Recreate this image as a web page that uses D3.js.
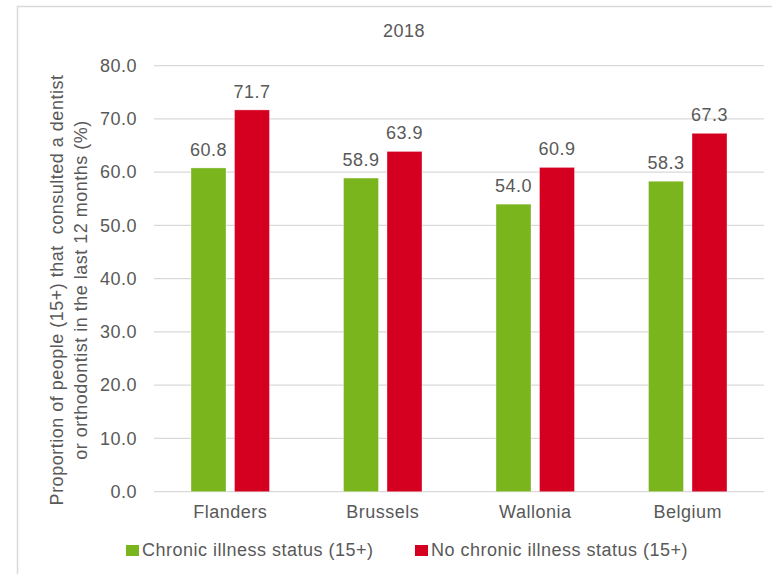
<!DOCTYPE html>
<html><head><meta charset="utf-8">
<script src="https://cdn.jsdelivr.net/npm/d3@7/dist/d3.min.js"></script>
<style>body{margin:0;background:#fff}svg{display:block}text{font-family:"Liberation Sans",Arial,sans-serif;fill:#595959;letter-spacing:0.5px}</style>
</head><body>
<script>
const categories = ["Flanders", "Brussels", "Wallonia", "Belgium"];
const seriesNames = ["Chronic illness status (15+)", "No chronic illness status (15+)"];
const chronic = [60.8, 58.9, 54.0, 58.3];
const noChronic = [71.7, 63.9, 60.9, 67.3];
const yTicks = [0, 10, 20, 30, 40, 50, 60, 70, 80];
const colors = ["#7AB51D", "#D50020"];
const title = "2018";
const yTitle = ["Proportion of people (15+) that  consulted a dentist", "or orthodontist in the last 12 months (%)"];

const W = 772, H = 574, FS = "18px";
const svg = d3.select("body").append("svg").attr("width", W).attr("height", H);
svg.append("rect").attr("x", 17.5).attr("y", 6.5).attr("width", 760).attr("height", 580)
  .attr("fill", "none").attr("stroke", "#d9d9d9").attr("stroke-width", 1.5);

const x0 = 154, x1 = 764, yTop = 65.7, yBot = 491.7;
const x = d3.scaleBand().domain(categories).range([x0, x1]);
const y = d3.scaleLinear().domain([0, 80]).range([yBot, yTop]);
const barW = 35, gap = 8.5;

svg.append("g").selectAll("line").data(yTicks).join("line")
  .attr("x1", x0).attr("x2", x1).attr("y1", d => y(d)).attr("y2", d => y(d))
  .attr("stroke", "#d9d9d9").attr("stroke-width", 1.2);

const yAxis = d3.axisLeft(y).tickValues(yTicks).tickFormat(d3.format(".1f")).tickSize(0).tickPadding(17);
const ga = svg.append("g").attr("transform", `translate(${x0},0)`).call(yAxis);
ga.select(".domain").remove();
ga.selectAll("text").style("font-size", FS).attr("fill", "#595959").attr("font-family", "Liberation Sans, Arial, sans-serif");

const xAxis = d3.axisBottom(x).tickSize(0).tickPadding(14);
const gx = svg.append("g").attr("transform", `translate(0,${yBot})`).call(xAxis);
gx.select(".domain").remove();
gx.selectAll("text").style("font-size", FS).attr("fill", "#595959").attr("font-family", "Liberation Sans, Arial, sans-serif");

const series = [chronic, noChronic];
series.forEach((vals, si) => {
  const g = svg.append("g");
  const bx = (c) => x(c) + x.bandwidth() / 2 + (si === 0 ? -gap / 2 - barW : gap / 2);
  g.selectAll("rect").data(categories).join("rect")
    .attr("x", d => bx(d)).attr("width", barW)
    .attr("y", (d, i) => y(vals[i])).attr("height", (d, i) => yBot - y(vals[i]))
    .attr("fill", colors[si]).attr("stroke", "#ffffff").attr("stroke-opacity", 0.35).attr("stroke-width", 1);
  g.selectAll("text").data(categories).join("text")
    .attr("x", d => bx(d) + barW / 2).attr("y", (d, i) => y(vals[i]) - 12)
    .attr("text-anchor", "middle").style("font-size", FS)
    .text((d, i) => vals[i].toFixed(1));
});

svg.append("text").attr("x", 404).attr("y", 37).attr("text-anchor", "middle").style("font-size", FS).text(title);

yTitle.forEach((t, i) => {
  svg.append("text").attr("transform", `translate(${63 + i * 24},${290}) rotate(-90)`)
    .attr("text-anchor", "middle").style("font-size", FS).style("white-space", "pre").text(t);
});

const legendX = [126, 415];
legendX.forEach((lx, i) => {
  svg.append("rect").attr("x", lx).attr("y", 545).attr("width", 13).attr("height", 11).attr("fill", colors[i]);
  svg.append("text").attr("x", lx + 16).attr("y", 556).style("font-size", FS).text(seriesNames[i]);
});
</script>
</body></html>
